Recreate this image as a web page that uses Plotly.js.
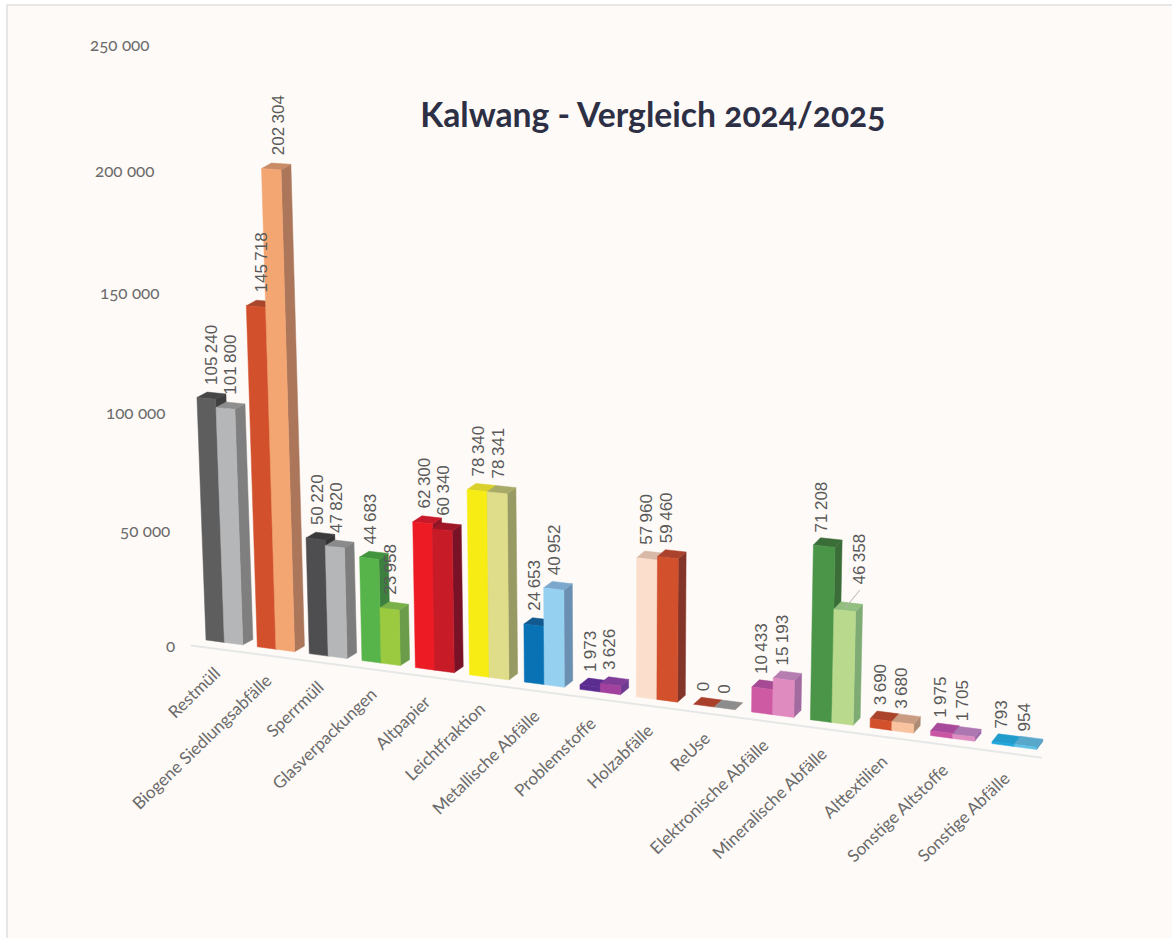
<!DOCTYPE html>
<html>
<head>
<meta charset="utf-8">
<script src="https://cdn.plot.ly/plotly-3.0.1.min.js"></script>
<style>
html,body{margin:0;padding:0;background:#fff;overflow:hidden}
#chart{width:1172px;height:938px}
svg text{font-variant-numeric:oldstyle-nums;font-feature-settings:"onum" 1}
</style>
</head>
<body>
<div id="chart"></div>
<script>
const categories = ["Restmüll","Biogene Siedlungsabfälle","Sperrmüll","Glasverpackungen","Altpapier","Leichtfraktion","Metallische Abfälle","Problemstoffe","Holzabfälle","ReUse","Elektronische Abfälle","Mineralische Abfälle","Alttextilien","Sonstige Altstoffe","Sonstige Abfälle"];
const values2024 = [105240,145718,50220,44683,62300,78340,24653,1973,57960,0,10433,71208,3690,1975,793];
const values2025 = [101800,202304,47820,23958,60340,78341,40952,3626,59460,0,15193,46358,3680,1705,954];
const axisTicks = [0,50000,100000,150000,200000,250000];
const axisLabels = ["0","50 000","100 000","150 000","200 000","250 000"];

const front2024 = ["#5e5e5e","#d2502c","#4e4d4f","#57b44a","#ed1c24","#f7ec13","#0872b5","#5c2d91","#fbdfcc","#b0452c","#cf5aa4","#4a9547","#d2502c","#c955a3","#1aa7dc"];
const top2024   = ["#474747","#a9462b","#3a393b","#42953c","#c8192a","#d9d02c","#12598f","#5c2d91","#d8b9a8","#a9402b","#a64a95","#3a6d38","#ab432a","#a84a9c","#229ccb"];
const side2024  = ["#3f3f3f","#8c3a24","#333234","#3d7f3e","#8f1524","#a8a030","#0f4c78","#4a2478","#b09a8c","#8a3524","#8c3f80","#3a6d38","#8c3a24","#8c3f80","#1d86ae"];
const front2025 = ["#b5b6b8","#f4a672","#b5b6b8","#9bc93f","#c71b28","#dfdd8a","#96d0f0","#a3429e","#d2502c","#999999","#e08bbf","#b9d98d","#f8c39e","#df8cc0","#5ec0e6"];
const top2025   = ["#8e8e8e","#c98a66","#8a8a8a","#79b04a","#9e1526","#a8aa68","#7ba8cc","#7f3d98","#aa432d","#8c8c8c","#b57db0","#92bf80","#c99b80","#ad77b1","#58a8cc"];
const side2025  = ["#7f7f7f","#ac765b","#7d7d7d","#6b9c49","#7a1227","#989a63","#6a8fb0","#6f3a8f","#84352a","#7a7a7a","#a26ba0","#7eaa73","#ac8a73","#a06aa8","#4a94b8"];

// Perspective: category position + value -> plot coordinates
const baseX = t => 206 + 50.96 * t / (1 - 0.00659 * t);
const baseY = x => 640 + (x - 206) * 0.1318;
const axisRise = v => v / 1000 * 2.267 * (1 + 0.000235 * v / 1000);
const barRise = (v, x) => v / 1000 * 2.245 * (1 + 0.000235 * v / 1000) * (1 + (x - 190) * 0.00012);
const pxToValue = p => (645 - p) * 1000 / 2.4;
const barW = 0.36;

function corner(t, v) {
  const bx = baseX(t);
  return [bx + (bx - 612) * 0.0212 * v / 100000, baseY(bx) - barRise(v, bx)];
}
function depth(x) {
  return [10 - (x - 250) * 4 / 790, -(5.5 + (x - 250) * 2.5 / 790)];
}
function face(pts, color) {
  const xs = pts.map(p => p[0]); const ys = pts.map(p => pxToValue(p[1]));
  xs.push(xs[0]); ys.push(ys[0]);
  return {type:"scatter", mode:"lines", x:xs, y:ys, fill:"toself", fillcolor:color,
          line:{color:color, width:0.5}, hoverinfo:"skip", showlegend:false};
}
const traces = [];
const annotations = [];
const fmt = v => String(v).replace(/\B(?=(\d{3})+$)/g, "\u2009");
const labelShift = {"11-1": [17, -12]};

// ground line
const lineT = [-0.3, 14.8];
traces.push({type:"scatter", mode:"lines",
  x: lineT.map(t => baseX(t)),
  y: lineT.map(t => pxToValue(baseY(baseX(t)) + 7.5)),
  line:{color:"#e6e8e8", width:2}, hoverinfo:"skip", showlegend:false});

function addBar(i, s, v, cFront, cTop, cSide) {
  const t0 = i + s * barW, t1 = t0 + barW;
  const bl = corner(t0, 0), br = corner(t1, 0), tl = corner(t0, v), tr = corner(t1, v);
  const dB = depth(br[0]), dT = depth(tr[0]), dL = depth(tl[0]);
  const off = (p, d) => [p[0] + d[0], p[1] + d[1]];
  if (v > 0) traces.push(face([br, off(br, dB), off(tr, dT), tr], cSide));
  traces.push(face([tl, tr, off(tr, dT), off(tl, dL)], cTop));
  if (v > 0) traces.push(face([bl, br, tr, tl], cFront));

  const lean = tl[0] - bl[0];
  const shift = labelShift[i + "-" + s] || [0, 0];
  const lx = tl[0] + 10 - 0.5 * lean + shift[0];
  const ly = tl[1] - 13 + shift[1];
  annotations.push({x:lx, y:pxToValue(ly), xref:"x", yref:"y", text:fmt(v), showarrow:false,
    textangle:-90, xanchor:"center", yanchor:"bottom", borderpad:0, borderwidth:0,
    font:{family:"Liberation Sans, Arial, sans-serif", size:17, color:"#595959"}});
  if (shift[0] !== 0) {
    traces.push({type:"scatter", mode:"lines",
      x:[lx, tl[0] + 11], y:[pxToValue(ly + 6), pxToValue(tl[1] - 1)],
      line:{color:"#b4b4b4", width:1}, hoverinfo:"skip", showlegend:false});
  }
}
categories.forEach((c, i) => {
  addBar(i, 0, values2024[i], front2024[i], top2024[i], side2024[i]);
  addBar(i, 1, values2025[i], front2025[i], top2025[i], side2025[i]);
  const cx = baseX(i + barW);
  annotations.push({x:cx + 1, y:pxToValue(baseY(cx) + 19), xref:"x", yref:"y", text:c, showarrow:false,
    textangle:-44, xanchor:"right", yanchor:"top", borderpad:0,
    font:{family:"Lato, sans-serif", size:17, color:"#6b6b6b"}});
});
axisTicks.forEach((v, i) => {
  annotations.push({x:176 - v / 1000 * 0.104, y:pxToValue(645 - axisRise(v)), xref:"x", yref:"y",
    text:axisLabels[i], showarrow:false, xanchor:"right", yanchor:"middle", borderpad:0,
    font:{family:"Lato, sans-serif", size:17, color:"#6b6b6b"}});
});

const layout = {
  width:1172, height:938, margin:{l:0,r:0,t:0,b:0},
  paper_bgcolor:"#ffffff", plot_bgcolor:"#ffffff", showlegend:false,
  title:{text:"<b>Kalwang - Vergleich 2024/2025</b>", x:0.557, xanchor:"center", y:0.877, yanchor:"middle",
         font:{family:"Lato, sans-serif", size:33.7, color:"#2d2f45"}},
  xaxis:{range:[0,1172], visible:false, fixedrange:true},
  yaxis:{range:[pxToValue(938), pxToValue(0)], visible:false, fixedrange:true},
  shapes:[{type:"rect", layer:"below", xref:"x", yref:"y", x0:7, x1:1180, y0:pxToValue(5), y1:pxToValue(950),
           fillcolor:"#fefaf7", line:{color:"#e6e6e6", width:2}}],
  annotations:annotations
};
Plotly.newPlot("chart", traces, layout, {displayModeBar:false, responsive:false});
</script>
</body>
</html>
